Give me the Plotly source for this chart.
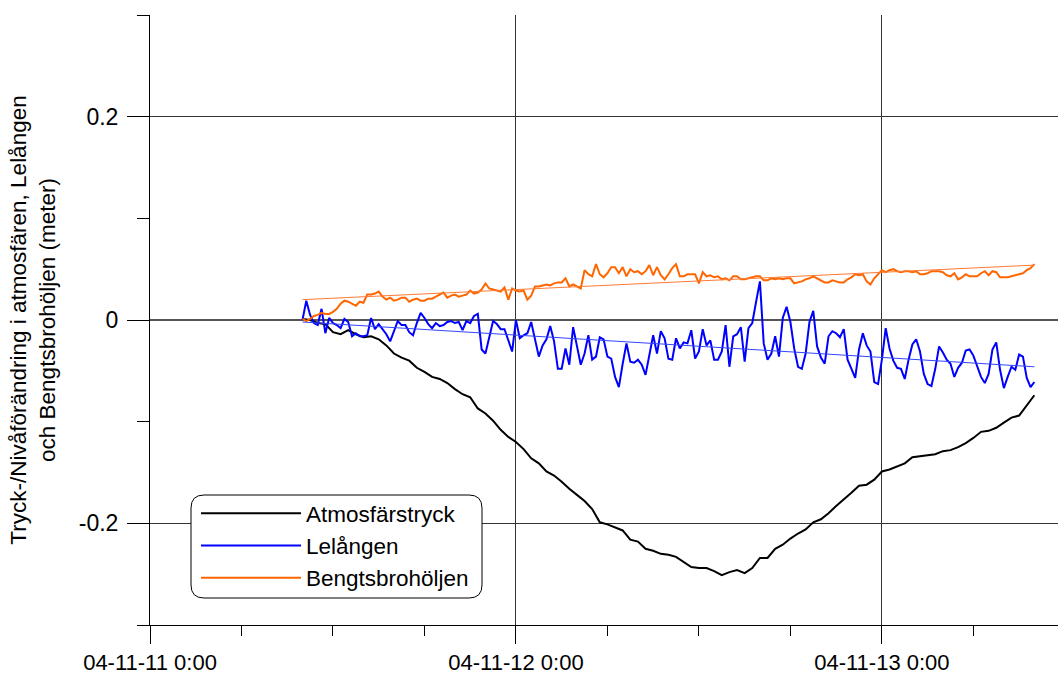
import pandas as pd
import plotly.graph_objects as go

# ---------------- data ----------------
start_time = "2004-11-11 10:00"
end_time = "2004-11-13 10:00"

# Lelången, 15-minute values (m)
lelangen = [
    0.000, 0.019, 0.005, -0.003, -0.005, 0.011, -0.013, 0.002, -0.003, -0.005,
    -0.008, 0.001, -0.002, -0.016, -0.013, -0.016, -0.016, -0.015, 0.002, -0.009,
    -0.004, -0.009, -0.014, -0.021, -0.010, -0.001, -0.005, -0.005, -0.012, -0.015,
    -0.003, 0.007, 0.002, -0.004, -0.008, -0.003, -0.006, -0.005, -0.002, -0.001,
    -0.003, -0.002, -0.010, -0.001, -0.003, 0.004, 0.006, -0.029, -0.033, -0.016,
    -0.001, -0.004, -0.009, -0.009, -0.021, -0.031, 0.000, -0.018, -0.015, -0.013,
    -0.002, -0.018, -0.036, -0.025, -0.019, -0.006, -0.021, -0.048, -0.048, -0.028,
    -0.044, -0.007, -0.025, -0.044, -0.033, -0.015, -0.039, -0.036, -0.017, -0.019,
    -0.036, -0.038, -0.056, -0.066, -0.043, -0.023, -0.041, -0.042, -0.039, -0.044,
    -0.054, -0.033, -0.015, -0.033, -0.011, -0.018, -0.038, -0.039, -0.018, -0.028,
    -0.022, -0.023, -0.010, -0.038, -0.031, -0.009, -0.025, -0.020, -0.039, -0.039,
    -0.031, -0.005, -0.046, -0.016, -0.014, -0.007, -0.041, -0.008, -0.003, 0.018,
    0.038, -0.023, -0.039, -0.033, -0.016, -0.036, 0.002, 0.013, -0.002, -0.028,
    -0.046, -0.048, -0.033, -0.002, 0.009, -0.026, -0.037, -0.043, -0.016, -0.011,
    -0.013, -0.017, -0.009, -0.039, -0.048, -0.057, -0.029, -0.013, -0.025, -0.031,
    -0.061, -0.063, -0.039, -0.008, -0.028, -0.040, -0.047, -0.048, -0.058, -0.039,
    -0.024, -0.019, -0.031, -0.053, -0.063, -0.065, -0.048, -0.026, -0.032, -0.039,
    -0.043, -0.056, -0.047, -0.042, -0.030, -0.029, -0.035, -0.046, -0.056, -0.062,
    -0.053, -0.029, -0.022, -0.049, -0.067, -0.056, -0.046, -0.049, -0.034, -0.036,
    -0.057, -0.066, -0.061,
]

# Bengtsbrohöljen, 15-minute values (m)
bengtsbro = [
    0.001, -0.001, 0.001, 0.004, 0.005, 0.007, 0.006, 0.006, 0.008, 0.011,
    0.016, 0.019, 0.018, 0.016, 0.014, 0.018, 0.017, 0.025, 0.025, 0.026,
    0.028, 0.023, 0.020, 0.022, 0.019, 0.020, 0.022, 0.022, 0.018, 0.020,
    0.021, 0.019, 0.019, 0.021, 0.021, 0.023, 0.025, 0.027, 0.022, 0.024,
    0.025, 0.023, 0.024, 0.025, 0.029, 0.026, 0.027, 0.030, 0.036, 0.031,
    0.030, 0.029, 0.028, 0.032, 0.020, 0.031, 0.029, 0.028, 0.029, 0.020,
    0.024, 0.033, 0.033, 0.034, 0.035, 0.034, 0.036, 0.037, 0.037, 0.041,
    0.033, 0.035, 0.033, 0.031, 0.049, 0.045, 0.043, 0.055, 0.045, 0.042,
    0.046, 0.052, 0.052, 0.046, 0.052, 0.043, 0.050, 0.047, 0.048, 0.045,
    0.048, 0.054, 0.044, 0.052, 0.044, 0.040, 0.045, 0.051, 0.055, 0.043,
    0.043, 0.045, 0.045, 0.045, 0.036, 0.047, 0.043, 0.044, 0.042, 0.043,
    0.040, 0.041, 0.039, 0.043, 0.043, 0.040, 0.040, 0.041, 0.042, 0.043,
    0.043, 0.039, 0.039, 0.041, 0.040, 0.041, 0.040, 0.041, 0.041, 0.036,
    0.037, 0.038, 0.040, 0.041, 0.043, 0.041, 0.039, 0.037, 0.037, 0.039,
    0.038, 0.037, 0.037, 0.040, 0.042, 0.045, 0.044, 0.045, 0.038, 0.035,
    0.041, 0.045, 0.049, 0.047, 0.049, 0.050, 0.048, 0.047, 0.048, 0.048,
    0.047, 0.048, 0.045, 0.045, 0.046, 0.048, 0.048, 0.048, 0.047, 0.044,
    0.043, 0.046, 0.040, 0.042, 0.045, 0.043, 0.043, 0.043, 0.046, 0.048,
    0.044, 0.048, 0.047, 0.042, 0.042, 0.042, 0.043, 0.044, 0.045, 0.046,
    0.049, 0.051, 0.055,
]

# Atmosfärstryck, 30-minute values (m)
atmos = [
    0.001, 0.000, -0.003, -0.004, -0.012, -0.014, -0.010, -0.014, -0.017, -0.016,
    -0.019, -0.025, -0.033, -0.037, -0.040, -0.047, -0.051, -0.056, -0.058, -0.062,
    -0.068, -0.073, -0.076, -0.087, -0.092, -0.099, -0.108, -0.115, -0.120, -0.127,
    -0.136, -0.141, -0.149, -0.153, -0.159, -0.166, -0.172, -0.178, -0.186, -0.199,
    -0.201, -0.204, -0.207, -0.216, -0.218, -0.225, -0.227, -0.230, -0.231, -0.233,
    -0.238, -0.243, -0.244, -0.244, -0.247, -0.251, -0.248, -0.246, -0.249, -0.244,
    -0.234, -0.234, -0.225, -0.221, -0.215, -0.210, -0.206, -0.199, -0.196, -0.190,
    -0.183, -0.176, -0.170, -0.163, -0.162, -0.157, -0.149, -0.147, -0.144, -0.141,
    -0.135, -0.134, -0.133, -0.132, -0.129, -0.128, -0.125, -0.121, -0.116, -0.110,
    -0.109, -0.106, -0.101, -0.096, -0.094, -0.084, -0.074,
]

# linear trend lines (start, end)
trend_times = [start_time, end_time]
lelangen_trend = [-0.002, -0.046]
bengtsbro_trend = [0.020, 0.054]

x_range = ["2004-11-11 00:00", "2004-11-13 11:33"]
y_range = [-0.3, 0.3]
y_ticks = [-0.2, 0, 0.2]
y_ticktext = ["-0.2", "0", "0.2"]

# ---------------- figure ----------------
t15 = pd.date_range(start_time, periods=len(lelangen), freq="15min")
t30 = pd.date_range(start_time, periods=len(atmos), freq="30min")

FONT = "Liberation Sans, Arial, sans-serif"
BLUE = "#0000FF"
ORANGE = "#FF6600"

W, H = 1058, 677
ML, MR, MT, MB = 150, 0, 15, 52
PW, PH = W - ML - MR, H - MT - MB

fig = go.Figure()
fig.add_trace(go.Scatter(x=t30, y=atmos, mode="lines", name="Atmosfärstryck",
                         line=dict(color="#000000", width=2)))
fig.add_trace(go.Scatter(x=t15, y=lelangen, mode="lines", name="Lelången",
                         line=dict(color=BLUE, width=2)))
fig.add_trace(go.Scatter(x=t15, y=bengtsbro, mode="lines", name="Bengtsbrohöljen",
                         line=dict(color=ORANGE, width=2)))
fig.add_trace(go.Scatter(x=trend_times, y=lelangen_trend, mode="lines",
                         showlegend=False, line=dict(color="#3344FF", width=1)))
fig.add_trace(go.Scatter(x=trend_times, y=bengtsbro_trend, mode="lines",
                         showlegend=False, line=dict(color="#FF7A33", width=1)))

fig.update_layout(
    width=W, height=H,
    margin=dict(l=ML, r=MR, t=MT, b=MB, autoexpand=False),
    paper_bgcolor="white", plot_bgcolor="white",
    font=dict(family=FONT, size=23, color="black"),
    showlegend=True,
    legend=dict(x=(196 - ML) / PW, y=(H - MB - 492) / PH,
                xanchor="left", yanchor="top",
                bgcolor="rgba(255,255,255,0)", borderwidth=0,
                font=dict(size=22.5), itemwidth=100, tracegroupgap=0),
)

fig.update_xaxes(
    type="date", range=x_range, automargin=False,
    tick0="2004-11-11", dtick=86400000, tickformat="%y-%m-%d %-H:%M",
    ticks="outside", ticklen=18, tickcolor="black", tickwidth=1,
    showline=True, linecolor="black", linewidth=1,
    showgrid=True, gridcolor="#333333", gridwidth=1,
    ticklabelstandoff=0,
    minor=dict(dtick=21600000, ticks="outside", ticklen=10, tickcolor="black",
               showgrid=False),
    tickfont=dict(size=22),
)
fig.update_yaxes(
    range=y_range, tickvals=y_ticks, ticktext=y_ticktext, automargin=False,
    ticks="outside", ticklen=22, tickcolor="black", tickwidth=1,
    showline=True, linecolor="black", linewidth=1,
    showgrid=True, gridcolor="#333333", gridwidth=1,
    zeroline=True, zerolinecolor="#555555", zerolinewidth=2,
    minor=dict(tickvals=[-0.3, -0.1, 0.1, 0.3], ticks="outside", ticklen=12,
               tickcolor="black", showgrid=False),
    tickfont=dict(size=23),
    ticklabelstandoff=4,
    title=dict(text="Tryck-/Nivåförändring i atmosfären, Lelången<br>och Bengtsbrohöljen (meter)",
               font=dict(size=22.5), standoff=16),
)

# rounded legend frame (pixel box converted to paper coordinates)
bx0, bx1, by0, by1, rad = 191, 482, 495, 598, 13
def px(x):
    return (x - ML) / PW
def py(y):
    return (H - MB - y) / PH
path = (
    f"M {px(bx0 + rad)} {py(by0)} L {px(bx1 - rad)} {py(by0)} "
    f"Q {px(bx1)} {py(by0)} {px(bx1)} {py(by0 + rad)} "
    f"L {px(bx1)} {py(by1 - rad)} "
    f"Q {px(bx1)} {py(by1)} {px(bx1 - rad)} {py(by1)} "
    f"L {px(bx0 + rad)} {py(by1)} "
    f"Q {px(bx0)} {py(by1)} {px(bx0)} {py(by1 - rad)} "
    f"L {px(bx0)} {py(by0 + rad)} "
    f"Q {px(bx0)} {py(by0)} {px(bx0 + rad)} {py(by0)} Z"
)
fig.add_shape(type="path", xref="paper", yref="paper", path=path,
              line=dict(color="black", width=1), fillcolor="white", layer="above")

fig.write_html("out.html")
